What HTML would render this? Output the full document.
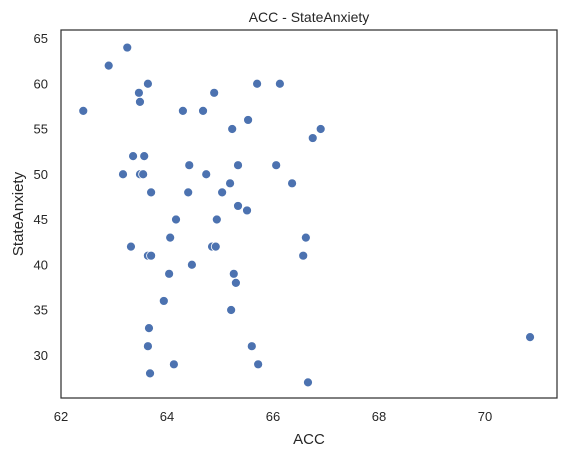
<!DOCTYPE html>
<html><head><meta charset="utf-8"><style>
body{margin:0;background:#fff}
svg{display:block;font-family:"Liberation Sans",sans-serif}
</style></head><body>
<svg id="c" width="566" height="457">
<rect x="61" y="30" width="496" height="368" fill="none" stroke="#333" stroke-width="1.25"/>
<text x="309" y="22" text-anchor="middle" font-size="14" fill="#262626">ACC - StateAnxiety</text>
<text x="309" y="444" text-anchor="middle" font-size="15" fill="#262626">ACC</text>
<text transform="translate(23,214) rotate(-90)" text-anchor="middle" font-size="15" fill="#262626">StateAnxiety</text>
<g id="ticks"></g><g id="pts"></g>
</svg>
<script>
const accValues=[62.42,62.9,63.25,63.64,63.47,63.49,63.36,63.57,63.17,63.49,63.55,63.7,64.17,64.06,64.42,64.4,64.3,64.68,64.89,64.74,63.64,63.7,63.32,64.47,64.04,63.94,63.66,63.64,63.68,64.13,64.94,65.04,64.85,64.92,65.19,65.23,65.34,65.34,65.26,65.3,65.21,65.53,65.51,65.6,65.7,65.72,66.13,66.06,66.36,66.62,66.57,66.75,66.9,66.66,70.85];
const anxietyValues=[57,62,64,60,59,58,52,52,50,50,50,48,45,43,51,48,57,57,59,50,41,41,42,40,39,36,33,31,28,29,45,48,42,42,49,55,51,46.5,39,38,35,56,46,31,60,29,60,51,49,43,41,54,55,27,32];
const xTicks=[62,64,66,68,70];
const yTicks=[30,35,40,45,50,55,60,65];
const X=v=>61+(v-62)*53;
const Y=v=>38.5+(65-v)*9.05;
const NS="http://www.w3.org/2000/svg";
const tg=document.getElementById('ticks');
xTicks.forEach(t=>{const e=document.createElementNS(NS,'text');
e.setAttribute('x',X(t));e.setAttribute('y',421);e.setAttribute('text-anchor','middle');e.setAttribute('font-size','13');e.setAttribute('fill','#262626');e.textContent=t;


tg.appendChild(e);});
yTicks.forEach(t=>{const e=document.createElementNS(NS,'text');
e.setAttribute('x',48);e.setAttribute('y',Y(t)+4.5);e.setAttribute('text-anchor','end');e.setAttribute('font-size','13');e.setAttribute('fill','#262626');e.textContent=t;


tg.appendChild(e);});
const pg=document.getElementById('pts');
accValues.forEach((a,i)=>{const c=document.createElementNS(NS,'circle');
c.setAttribute('cx',X(a));c.setAttribute('cy',Y(anxietyValues[i]));c.setAttribute('r',4.5);c.setAttribute('fill','#4c72b0');c.setAttribute('stroke','#fff');c.setAttribute('stroke-width','0.8');


pg.appendChild(c);});
</script>
</body></html>
